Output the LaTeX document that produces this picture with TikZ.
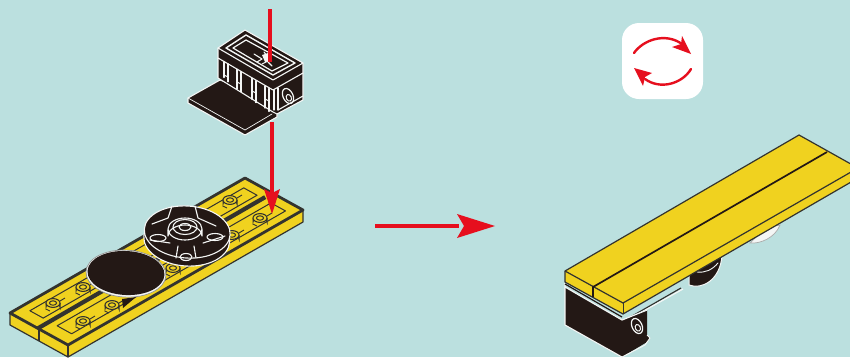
\documentclass[tikz,border=0pt]{standalone}
\usetikzlibrary{arrows.meta}
\definecolor{bg}{HTML}{BBE0DF}
\definecolor{ylw}{HTML}{F0D21F}
\definecolor{blk}{HTML}{231815}
\definecolor{drk}{HTML}{33332F}
\definecolor{rd}{HTML}{E60F1E}
\definecolor{wht}{HTML}{F4F6F5}
\newcommand{\stud}[2]{%
  \begin{scope}[shift={(#1,#2)}]
    \draw[drk,line width=.9] (-7,6) -- (-3,8) (7,-2) -- (12,-5);
    \draw[drk,line width=1,fill=ylw] (-7,0) -- (-7,4) arc[start angle=180,end angle=360,x radius=7,y radius=4.4] -- (7,0);
    \draw[drk,line width=1.1,fill=ylw] (0,0) ellipse[x radius=7,y radius=4.4];
    \draw[drk,line width=1] (0,0) ellipse[x radius=3.6,y radius=2.2];
  \end{scope}}
\tikzset{
  blackwhite/.style={fill=blk,draw=wht,line width=1.1,line join=round},
  whiteline/.style={draw=wht,line width=1.1,line cap=round,line join=round},
  yellowface/.style={fill=ylw,draw=drk,line width=1.2,line join=round},
  redline/.style={draw=rd,line width=3.4},
  redhead/.style={fill=rd,draw=none}
}
\begin{document}
\begin{tikzpicture}[x=1pt,y=-1pt]
\useasboundingbox (0,0) rectangle (850,357);
\fill[bg] (0,0) rectangle (850,357);

% ---- left plate
\fill[ylw,draw=drk,line width=1.2,line join=round] (10,313) -- (10,325) -- (68,357) -- (303,222) -- (303,210) -- (245,178) -- cycle;
\draw[drk,line width=1.2] (68,345) -- (68,357) (39,329) -- (39,341);
\begin{scope}[shift={(10,313)},x={(235pt,135pt)},y={(58pt,-32pt)}]
  \fill[ylw] (0,0) -- (1,0) -- (1,1) -- (0,1) -- cycle;
  \draw[drk,line width=2.8,line join=round] (0,0) -- (1,0) -- (1,1) -- (0,1) -- cycle;
  \draw[drk,line width=4.2] (0,.48) -- (.97,.47);
  \draw[drk,line width=1,line join=round] (.05,.14) -- (.96,.14) -- (.96,.37) -- (.05,.37) -- cycle;
  \draw[drk,line width=1,line join=round] (.05,.61) -- (.96,.61) -- (.96,.86) -- (.05,.86) -- cycle;
\end{scope}
\stud{53}{303}\stud{83}{287}\stud{83}{321}\stud{112}{305}
\stud{173}{268}\stud{232}{235}\stud{230}{200}\stud{260}{218}

% ---- turntable
\fill[blk] (122,299) -- (136,297) -- (123,308) -- cycle;
\begin{scope}[rotate around={-4:(187,235)}]
  \draw[blackwhite] (187,239) ellipse[x radius=43,y radius=27];
  \draw[blackwhite] (187,232) ellipse[x radius=43,y radius=26];
\end{scope}
\draw[whiteline] (172,206) -- (168,218) -- (152,224)
                 (195,206) -- (198,218) -- (216,226)
                 (150,240) -- (170,243)
                 (225,236) -- (203,243)
                 (176,258) -- (178,246)
                 (196,258) -- (194,246);
\draw[whiteline] (158,238) ellipse[x radius=8,y radius=3.5];
\draw[whiteline] (215,237) ellipse[x radius=8,y radius=3.5];
\draw[whiteline] (186,257) ellipse[x radius=6,y radius=3.5];
\draw[blackwhite] (185,229) ellipse[x radius=17,y radius=11];
\draw[whiteline,fill=blk] (185,227) ellipse[x radius=12,y radius=7.5];
\draw[whiteline] (185,227) ellipse[x radius=6,y radius=3.5];
\draw[whiteline] (168,230) -- (168,236) arc[start angle=180,end angle=360,x radius=17,y radius=11] -- (202,230);

% ---- black disc
\begin{scope}[rotate around={-3:(126,273)}]
  \draw[fill=wht,draw=wht!60!black,line width=.7] (126,273.6) ellipse[x radius=40,y radius=23.5];
  \fill[blk] (126,273) ellipse[x radius=38.5,y radius=22];
\end{scope}

% ---- connector block
\draw[blackwhite] (220,80) -- (188,98) -- (188,103) -- (245,135) -- (277,117) -- (277,100) -- cycle;
\draw[whiteline,line width=.7] (188,98) -- (245,130) -- (272,114);
\draw[blackwhite] (218,48) -- (218,78) -- (273,112) -- (277,114) -- (303,100) -- (303,63) -- (245,30) -- cycle;
\foreach \x/\l in {224/16,228/18,237/20,241/20,252/21,256/22,265/22,269/23}{
  \draw[whiteline,line width=1.2] (\x,{59+.6*(\x-220)}) -- (\x,{59+.6*(\x-220)+\l});
}
\draw[whiteline] (224,75) -- (228,77) (237,82) -- (241,84) (252,91) -- (256,93) (265,99) -- (269,101);
\draw[whiteline] (218,58) -- (273,90) -- (303,73);
\draw[whiteline] (274,90) -- (274,110) (278,88) -- (278,110);
\draw[whiteline] (278,110) -- (303,96);
\draw[whiteline] (218,48) -- (273,80) -- (303,63);
\draw[whiteline,line width=1.4] (246,35) -- (295,63) -- (273,75) -- (226,48) -- cycle;
\draw[whiteline,line width=1.2] (246,40) -- (288,63) -- (272,71) -- (233,48) -- cycle;
\draw[whiteline] (254,54) -- (262,59) -- (257,62) (264,52) -- (270,60) -- (262,64) (268,62) -- (272,66);
\fill[wht] (262,55) -- (268,53) -- (272,60) -- (265,62) -- cycle;
\begin{scope}[rotate around={25:(288,96)}]
  \draw[whiteline,line width=1.2] (288,96) ellipse[x radius=5,y radius=8];
  \draw[whiteline,line width=1] (288,98) ellipse[x radius=2.5,y radius=3.5];
\end{scope}

% ---- arrows on left
\coordinate (a1) at (270,9);
\coordinate (a2) at (270,62);
\coordinate (a3) at (272,122);
\coordinate (a4) at (272,195);
\coordinate (a5) at (375,226);
\coordinate (a6) at (459,226);
\draw[redline] (a1) -- (a2);
\draw[redline] (a3) -- (a4);
\fill[redhead] (264,189) -- (272,193) -- (280,189) -- (272,214) -- cycle;
\draw[redline,line width=4.2] (a5) -- (a6);
\fill[redhead] (457,214) -- (464,226) -- (457,238) -- (495,226) -- cycle;

% ---- icon
\fill[white,rounded corners=17] (622,23) rectangle (703,99);
\draw[rd,line width=2.4,line cap=round] (634,53) .. controls (643,40) and (665,32) .. (682,44);
\draw[rd,line width=2.4,line cap=round] (691,69) .. controls (682,84) and (660,90) .. (645,79);
\fill[rd] (691,54) -- (682,36) -- (681,44) -- (672,47) -- cycle;
\fill[rd] (634,68) -- (652,73) -- (645,77) -- (643,86) -- cycle;

% ---- bench: under parts
\draw[fill=wht,draw=wht!70!black,line width=.7] (750,243) .. controls (760,244) and (775,238) .. (780,225) -- (765,228) -- cycle;
\draw[fill=blk,draw=wht,line width=1] (689,285) .. controls (702,290) and (720,280) .. (722,256) -- (700,265) -- (689,272) -- cycle;
\draw[whiteline,line width=.9] (697,272) .. controls (705,273) and (712,270) .. (718,263);
\draw[drk,line width=1.2] (627,319) -- (681,288);
\draw[wht,line width=1.2] (624,322) -- (683,289);
\fill[blk] (565,287) -- (565,325) -- (622,357) -- (647,342) -- (650,338) -- (647,335) -- (647,310) -- (622,320) -- cycle;
\draw[wht,line width=1.1,line join=round] (565,283) -- (565,325) -- (622,357);
\draw[wht,line width=1,line join=round] (622,357) -- (645,345) -- (650,338) -- (647,335);
\draw[wht,line width=1.2] (565,287) -- (622,320);
\draw[blk,line width=1.2] (565,284) -- (622,317);
\draw[wht,line width=1.2] (622,320) -- (647,310);
\begin{scope}[rotate around={25:(637,326)}]
  \draw[whiteline,line width=1.2] (637,326) ellipse[x radius=5,y radius=8];
  \draw[whiteline,line width=1] (637,328) ellipse[x radius=2.5,y radius=3.5];
\end{scope}

% ---- bench top
\begin{scope}
\clip (0,0) rectangle (850,357);
\draw[yellowface] (565,271) -- (565,282) -- (623,314) -- (858,178) -- (858,168) -- (799,135) -- cycle;
\draw[drk,line width=1.2] (565,271) -- (623,303) -- (858,168);
\draw[drk,line width=1] (623,303) -- (623,314);
\draw[blk,line width=1.7] (593,297) -- (593,287) -- (827,152);
\end{scope}
\end{tikzpicture}
\end{document}
